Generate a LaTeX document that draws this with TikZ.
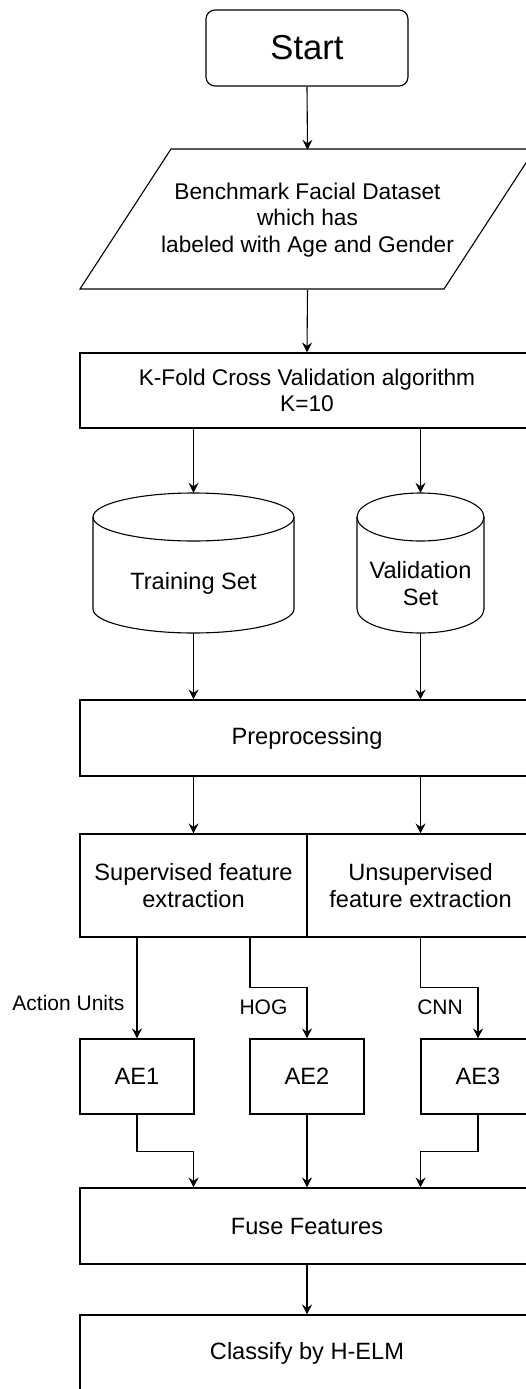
\documentclass[tikz,border=0pt]{standalone}
\usepackage{fontspec}
\setmainfont{Liberation Sans}
\usetikzlibrary{arrows.meta}

\tikzset{
  every node/.style={font=\fontsize{23.6}{27.5}\selectfont, align=center, inner sep=0pt},
  box/.style={draw, line width=1.1pt, rectangle},
  anchorbox/.style={rectangle, inner sep=0pt},
  outline/.style={line width=1.1pt},
  flow/.style={line width=1.1pt, -{Stealth[length=10pt,width=10pt,inset=3.5pt]}},
  lbl/.style={font=\fontsize{21}{25}\selectfont},
  small/.style={font=\fontsize{22.7}{26.5}\selectfont}
}

\begin{document}
\begin{tikzpicture}[x=1pt,y=-1pt]
  \useasboundingbox (0,0) rectangle (526,1389);
  \clip (0,0) rectangle (526,1389);

  % start terminal
  \node[box, rounded corners=9pt, minimum width=202pt, minimum height=76pt] (start) at (307,48)
    {\fontsize{34.6}{40}\selectfont Start};

  % input data (parallelogram)
  \draw[outline] (80,289) -- (171,149) -- (535,149) -- (444,289) -- cycle;
  \node[anchorbox, small, minimum width=273pt, minimum height=140pt] (data) at (307.5,220)
    {Benchmark Facial Dataset\\which has\\labeled with Age and Gender};

  % cross validation
  \node[box, small, minimum width=454pt, minimum height=75pt] (kfold) at (307,390.5)
    {K-Fold Cross Validation algorithm\\K=10};

  % training set cylinder
  \node[anchorbox, minimum width=201pt, minimum height=140pt] (train) at (193.5,563) {};
  \draw[outline] (193.5,517) ellipse [x radius=100.5pt, y radius=24pt];
  \draw[outline] (93,517) -- (93,609) arc[start angle=180, end angle=360, x radius=100.5pt, y radius=24pt] -- (294,517);
  \node (trainlbl) at (193.5,583) {Training Set};

  % validation set cylinder
  \node[anchorbox, minimum width=127pt, minimum height=140pt] (val) at (420.5,563) {};
  \draw[outline] (420.5,517) ellipse [x radius=63.5pt, y radius=24pt];
  \draw[outline] (357,517) -- (357,609) arc[start angle=180, end angle=360, x radius=63.5pt, y radius=24pt] -- (484,517);
  \node (vallbl) at (420.5,583.5) {Validation\\Set};

  % processing steps
  \node[box, minimum width=454pt, minimum height=76pt] (prep) at (307,738) {Preprocessing};
  \node[box, minimum width=227pt, minimum height=103pt] (sup) at (193.5,885.5) {Supervised feature\\extraction};
  \node[box, minimum width=227pt, minimum height=103pt] (unsup) at (420.5,885.5) {Unsupervised\\feature extraction};

  \node[box, minimum width=114pt, minimum height=75pt] (ae1) at (137,1076.5) {AE1};
  \node[box, minimum width=114pt, minimum height=75pt] (ae2) at (307,1076.5) {AE2};
  \node[box, minimum width=114pt, minimum height=75pt] (ae3) at (478,1076.5) {AE3};

  \node[box, minimum width=454pt, minimum height=76pt] (fuse) at (307,1226) {Fuse Features};
  \node[box, minimum width=454pt, minimum height=76pt] (classify) at (307,1353) {Classify by H-ELM};

  % connectors
  \draw[flow] (start.south) -- (data.north);
  \draw[flow] (data.south) -- (kfold.north);
  \draw[flow] (kfold.south -| train.north) -- (train.north);
  \draw[flow] (kfold.south -| val.north) -- (val.north);
  \draw[flow] (train.south) -- (train.south |- prep.north);
  \draw[flow] (val.south) -- (val.south |- prep.north);
  \draw[flow] (prep.south -| sup.north) -- (sup.north);
  \draw[flow] (prep.south -| unsup.north) -- (unsup.north);

  \draw[flow] (sup.south -| ae1.north) -- (ae1.north);
  \draw[flow] ([xshift=56.5pt]sup.south) -- ++(0,50) -| (ae2.north);
  \draw[flow] (unsup.south) -- ++(0,50) -| (ae3.north);

  \node[lbl] (lau) at (68.5,1003) {Action Units};
  \node[lbl] (lhog) at (263.5,1007) {HOG};
  \node[lbl] (lcnn) at (440,1007) {CNN};

  \draw[flow] (ae1.south) -- ++(0,37) -| (sup |- fuse.north);
  \draw[flow] (ae2.south) -- (fuse.north);
  \draw[flow] (ae3.south) -- ++(0,37) -| (unsup |- fuse.north);
  \draw[flow] (fuse.south) -- (classify.north);
\end{tikzpicture}
\end{document}
